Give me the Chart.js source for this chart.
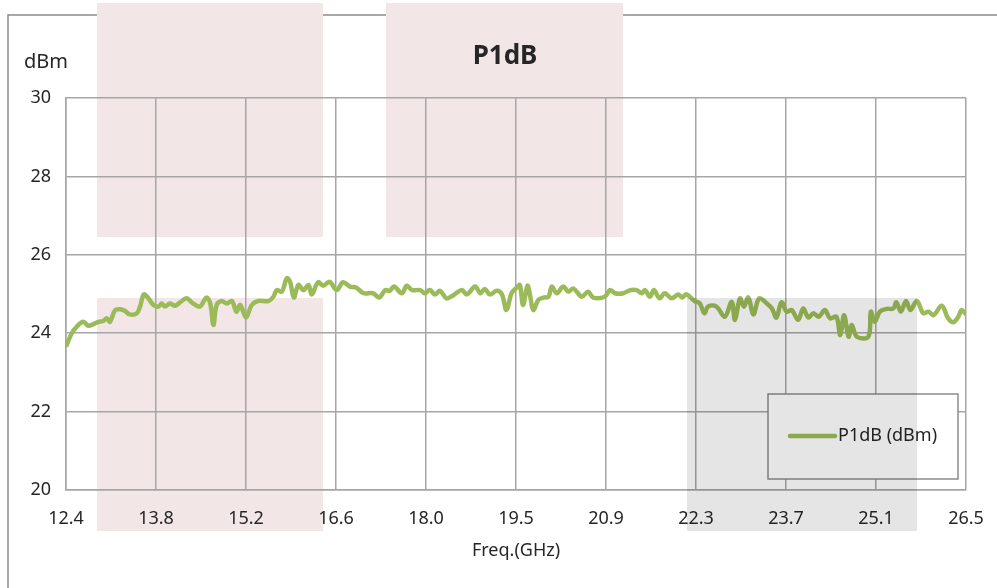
<!DOCTYPE html>
<html lang="en">
<head>
<meta charset="UTF-8">
<title>P1dB</title>
<script src="https://cdn.jsdelivr.net/npm/chart.js@4.4.0/dist/chart.umd.min.js"></script>
<style>
  html, body { margin: 0; padding: 0; background: #fff; }
  #wrap { width: 997px; height: 588px; }
</style>
</head>
<body>
<div id="wrap"><canvas id="chart"></canvas></div>
<script>
// values
const freqGHz = [12.40,12.49,12.57,12.67,12.75,12.83,12.91,12.98,13.04,13.09,13.17,13.25,13.32,13.40,13.51,13.56,13.62,13.69,13.77,13.85,
  13.90,13.95,14.03,14.11,14.19,14.29,14.39,14.50,14.60,14.66,14.71,14.76,14.84,14.92,15.00,15.07,15.13,15.22,15.31,15.41,
  15.57,15.65,15.70,15.78,15.86,15.91,15.97,16.04,16.12,16.20,16.25,16.35,16.43,16.53,16.64,16.74,16.85,16.95,17.06,17.21,
  17.31,17.40,17.47,17.54,17.66,17.74,17.82,17.95,18.02,18.10,18.18,18.26,18.36,18.47,18.60,18.68,18.81,18.89,18.96,19.04,
  19.15,19.23,19.30,19.38,19.46,19.51,19.56,19.63,19.67,19.72,19.80,19.88,19.96,20.01,20.09,20.19,20.27,20.35,20.48,20.58,
  20.66,20.84,20.92,21.00,21.13,21.24,21.34,21.42,21.47,21.55,21.61,21.70,21.78,21.89,21.99,22.05,22.12,22.25,22.33,22.40,
  22.46,22.59,22.72,22.83,22.88,22.96,23.02,23.09,23.17,23.26,23.38,23.46,23.53,23.61,23.69,23.77,23.87,23.95,24.03,24.11,
  24.19,24.29,24.37,24.47,24.53,24.59,24.66,24.71,24.79,24.97,25.01,25.07,25.15,25.26,25.36,25.41,25.48,25.56,25.63,25.73,
  25.83,25.91,25.99,26.12,26.22,26.30,26.38,26.43,26.50];
const p1dB = [23.66,24.00,24.17,24.29,24.19,24.23,24.29,24.31,24.38,24.29,24.59,24.61,24.57,24.48,24.51,24.68,24.99,24.89,24.72,24.68,
  24.76,24.68,24.76,24.70,24.79,24.89,24.76,24.68,24.91,24.76,24.21,24.72,24.82,24.76,24.82,24.55,24.72,24.40,24.72,24.82,
  24.82,24.93,25.10,25.06,25.40,25.31,24.91,25.23,25.10,25.23,24.99,25.30,25.21,25.31,25.10,25.30,25.19,25.16,25.02,25.02,
  24.91,25.10,25.08,25.19,25.02,25.21,25.10,25.10,25.02,25.10,24.99,25.08,24.89,24.97,25.10,24.99,25.19,25.02,25.13,24.99,
  25.08,24.99,24.59,25.02,25.16,25.23,24.72,25.21,24.97,24.59,24.85,24.91,24.93,25.19,25.02,25.19,25.06,25.14,24.93,25.06,
  24.91,24.93,25.10,25.02,25.02,25.10,25.10,25.02,25.10,24.93,25.10,24.89,25.02,24.89,24.99,24.91,24.99,24.82,24.76,24.51,
  24.68,24.68,24.42,24.80,24.34,24.89,24.68,24.91,24.48,24.89,24.76,24.63,24.40,24.79,24.55,24.59,24.34,24.63,24.40,24.51,
  24.42,24.59,24.38,24.42,23.95,24.46,23.91,24.21,23.91,23.91,24.55,24.29,24.55,24.62,24.63,24.79,24.55,24.82,24.59,24.82,
  24.51,24.55,24.46,24.70,24.38,24.28,24.42,24.59,24.48];
const xTickLabels = ['12.4','13.8','15.2','16.6','18.0','19.5','20.9','22.3','23.7','25.1','26.5'];
const seriesName = 'P1dB (dBm)';
const chartTitle = 'P1dB';
const yUnit = 'dBm';

const FONT = 'Noto Sans';
const textColor = '#262626';
const gridColor = '#a6a6a6';
const lineColor = 'rgb(155,187,89)';

// frame, watermark blocks, title, unit label, legend box, grey overlay
const decor = {
  id: 'decor',
  beforeDraw(chart) {
    const c = chart.ctx;
    c.save();
    c.strokeStyle = '#8c8c8c';
    c.lineWidth = 1.5;
    c.beginPath();
    c.moveTo(8, 588); c.lineTo(8, 15); c.lineTo(997, 15);
    c.stroke();
    c.fillStyle = '#f2e6e7';
    c.fillRect(97, 3, 226, 234);
    c.fillRect(386, 3, 237, 234);
    c.fillRect(97, 298, 226, 233);
    c.restore();
  },
  afterDraw(chart) {
    const c = chart.ctx;
    const a = chart.chartArea;
    c.save();
    c.fillStyle = textColor;
    c.textBaseline = 'middle';
    c.textAlign = 'center';
    c.font = 'bold 26px "' + FONT + '"';
    c.fillText(chartTitle, 505, 57);

    c.textAlign = 'left';
    c.font = '20px "' + FONT + '"';
    c.fillText(yUnit, 24, 62);

    // legend
    const bx = a.right - 198, by = a.bottom - 96;
    c.fillStyle = '#fff';
    c.fillRect(bx, by, 190, 85);
    c.strokeStyle = '#8c8c8c';
    c.lineWidth = 1.5;
    c.strokeRect(bx, by, 190, 85);
    c.strokeStyle = lineColor;
    c.lineWidth = 4.5;
    c.lineCap = 'round';
    c.beginPath();
    c.moveTo(bx + 22, by + 42); c.lineTo(bx + 67, by + 42);
    c.stroke();
    c.fillStyle = textColor;
    c.font = '18px "' + FONT + '"';
    c.fillText(chart.data.datasets[0].label, bx + 70, by + 42);

    c.fillStyle = 'rgba(0,0,0,0.1)';
    c.fillRect(687, 298, 230, 233);
    c.restore();
  }
};

const ctx = document.getElementById('chart').getContext('2d');
new Chart(ctx, {
  type: 'line',
  data: {
    datasets: [{
      label: seriesName,
      data: freqGHz.map((f, i) => ({ x: f, y: p1dB[i] })),
      borderColor: lineColor,
      backgroundColor: lineColor,
      borderWidth: 4.5,
      pointRadius: 0,
      tension: 0.35,
      fill: false
    }]
  },
  options: {
    responsive: true,
    maintainAspectRatio: false,
    animation: false,
    layout: { padding: { left: 0, right: 31, top: 98, bottom: 0 } },
    plugins: {
      legend: { display: false },
      tooltip: { enabled: false },
      title: { display: false }
    },
    scales: {
      x: {
        type: 'linear',
        min: 12.4,
        max: 26.5,
        afterBuildTicks: s => {
          const n = xTickLabels.length;
          s.ticks = xTickLabels.map((t, i) => ({ value: s.min + i * (s.max - s.min) / (n - 1) }));
        },
        afterFit: s => { s.height = 98; s.paddingLeft = 0; s.paddingRight = 0; },
        ticks: {
          callback: (v, i) => xTickLabels[i],
          autoSkip: false,
          maxRotation: 0,
          padding: 18,
          color: textColor,
          font: { family: FONT, size: 18 }
        },
        grid: { color: gridColor, lineWidth: 1.5, drawTicks: false },
        border: { color: gridColor, width: 1.5 },
        title: {
          display: true,
          text: 'Freq.(GHz)',
          color: textColor,
          font: { family: FONT, size: 18 },
          padding: { top: 26, bottom: 26 }
        }
      },
      y: {
        min: 20,
        max: 30,
        afterFit: s => { s.width = 66; s.paddingTop = 0; s.paddingBottom = 0; },
        ticks: {
          stepSize: 2,
          padding: 15,
          color: textColor,
          font: { family: FONT, size: 18 }
        },
        grid: { color: gridColor, lineWidth: 1.5, drawTicks: false },
        border: { color: gridColor, width: 1.5 }
      }
    }
  },
  plugins: [decor]
});
</script>
</body>
</html>
